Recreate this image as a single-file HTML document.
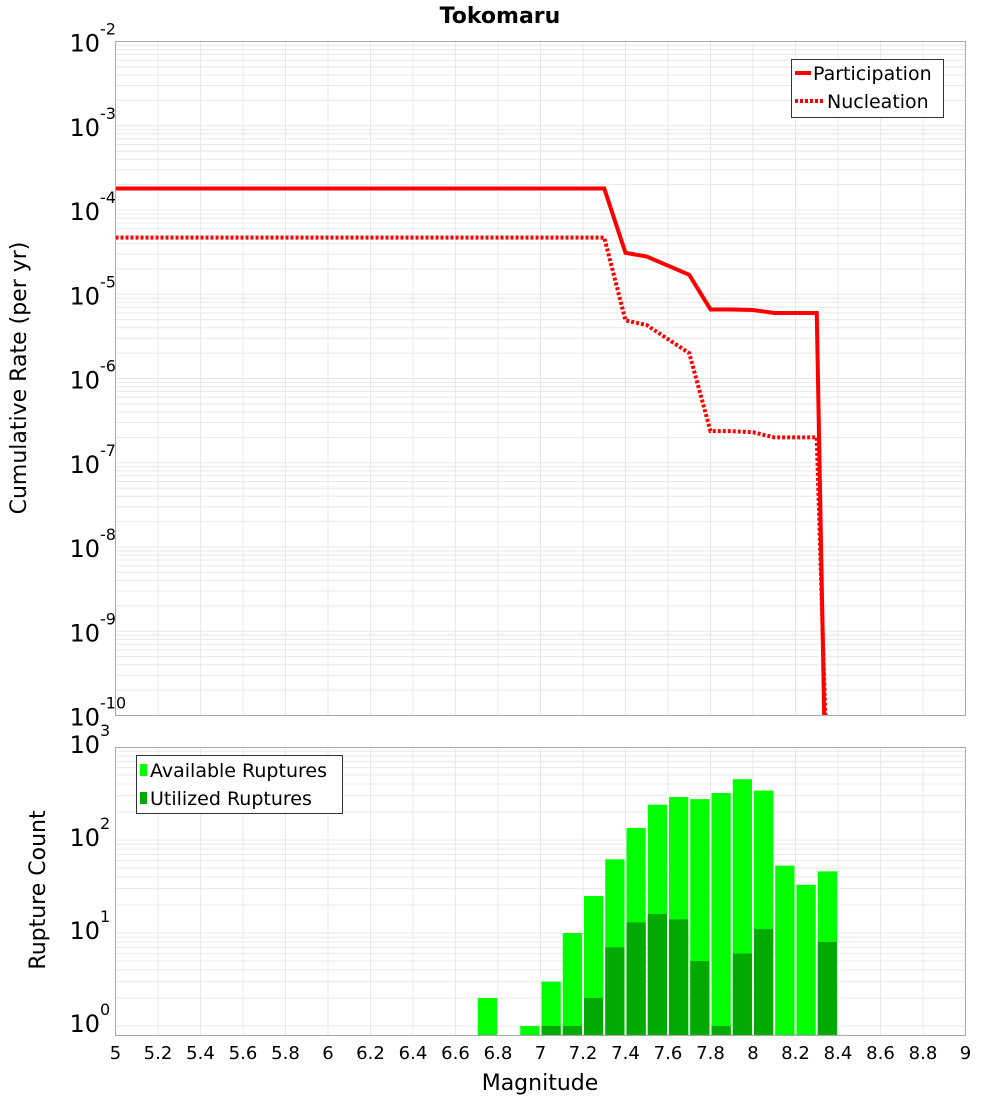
<!DOCTYPE html>
<html><head><meta charset="utf-8"><style>
body{margin:0;background:#fff;}
svg text{font-family:"DejaVu Sans","Liberation Sans",sans-serif;fill:#000;}
</style></head><body>
<svg id="chart" width="1000" height="1100" xmlns="http://www.w3.org/2000/svg">
<text x="500" y="23" text-anchor="middle" font-size="22" font-weight="bold">Tokomaru</text>
<g id="topg"></g><g id="botg"></g>
<text transform="translate(26,378) rotate(-90)" text-anchor="middle" font-size="22">Cumulative Rate (per yr)</text>
<text transform="translate(45,890) rotate(-90)" text-anchor="middle" font-size="22">Rupture Count</text>
<text x="540" y="1090" text-anchor="middle" font-size="22">Magnitude</text>
<g>
<rect x="791.5" y="59.5" width="152" height="58" fill="#fff" stroke="#333"/>
<line x1="795" y1="73" x2="811" y2="73" stroke="#f00" stroke-width="4"/>
<text x="813" y="80" font-size="19">Participation</text>
<line x1="795" y1="101" x2="823" y2="101" stroke="#f00" stroke-width="4" stroke-dasharray="3,2"/>
<text x="827" y="108" font-size="19">Nucleation</text>
</g>
<g>
<rect x="136.5" y="755.5" width="206" height="58" fill="#fff" stroke="#333"/>
<rect x="140" y="764" width="7" height="12" fill="#00ff00"/>
<text x="150" y="777" font-size="19">Available Ruptures</text>
<rect x="140" y="792" width="7" height="12" fill="#00aa00"/>
<text x="150" y="805" font-size="19">Utilized Ruptures</text>
</g>
</svg>
<script>
const xTicks=[5,5.2,5.4,5.6,5.8,6,6.2,6.4,6.6,6.8,7,7.2,7.4,7.6,7.8,8,8.2,8.4,8.6,8.8,9];
const partMag=[5,7.3,7.4,7.5,7.7,7.8,7.9,8.0,8.1,8.3,8.335];
const partRate=[1.8e-4,1.8e-4,3.1e-5,2.8e-5,1.7e-5,6.6e-6,6.6e-6,6.5e-6,6.0e-6,6.0e-6,1e-10];
const nuclMag=[5,7.3,7.4,7.5,7.7,7.8,7.9,8.0,8.1,8.3,8.34];
const nuclRate=[4.7e-5,4.7e-5,4.9e-6,4.3e-6,2.0e-6,2.37e-7,2.37e-7,2.3e-7,2.0e-7,2.0e-7,1e-10];
const binMag=[6.7,6.9,7.0,7.1,7.2,7.3,7.4,7.5,7.6,7.7,7.8,7.9,8.0,8.1,8.2,8.3];
const available=[2,1,3,10,25,62,135,240,290,275,320,450,340,53,33,46];
const utilized=[0,0,1,1,2,7,13,16,14,5,1,6,11,0,0,8];
const NS='http://www.w3.org/2000/svg';
const L=115.5,R=965.5;
const X=m=>L+(m-5)*(R-L)/4;
const T1=41.5,B1=715.5,Ytop=v=>T1+(-2-Math.log10(v))*(B1-T1)/8;
const T2=747.5,B2=1035.5,PPD=93,Ybot=v=>1026-Math.log10(v)*PPD;
function el(p,t,a){const e=document.createElementNS(NS,t);for(const k in a)e.setAttribute(k,a[k]);p.appendChild(e);return e;}
const gTop=document.getElementById('topg'),gBot=document.getElementById('botg');
for(let d=-10;d<-2;d++)for(let k=1;k<10;k++){const y=Ytop(k*Math.pow(10,d));const g=el(gTop,'line',{x1:L,x2:R,y1:y,y2:y,stroke:'#e8e8e8'});

}
for(let d=0;d<3;d++)for(let k=1;k<10;k++){const y=Ybot(k*Math.pow(10,d));if(y<T2)continue;const g=el(gBot,'line',{x1:L,x2:R,y1:y,y2:y,stroke:'#e8e8e8'});

}
xTicks.forEach(t=>{const x=X(t);
const a=el(gTop,'line',{x1:x,x2:x,y1:T1,y2:B1,stroke:'#e8e8e8'});


const b=el(gBot,'line',{x1:x,x2:x,y1:T2,y2:B2,stroke:'#e8e8e8'});


const tx=el(gBot,'text',{x:x,y:1059,'text-anchor':'middle','font-size':'18'});tx.textContent=String(t);

});
for(let d=-10;d<=-2;d++){const y=Ytop(Math.pow(10,d));const t=el(gTop,'text',{x:100,y:y+10,'text-anchor':'end','font-size':'24'});t.textContent='10';


const s=el(gTop,'text',{x:100,y:y-7,'font-size':'16'});s.textContent=String(d);

}
for(let d=0;d<=3;d++){const y=Ybot(Math.pow(10,d));const t=el(gBot,'text',{x:100,y:y+6,'text-anchor':'end','font-size':'24'});t.textContent='10';


const s=el(gBot,'text',{x:100,y:y-11,'font-size':'16'});s.textContent=String(d);

}
binMag.forEach((m,i)=>{const x0=X(m)+1,w=X(m+0.1)-X(m)-2;
const y=Math.max(Ybot(available[i]),T2);const r=el(gBot,'rect',{x:x0,y:y,width:w,height:B2-y,fill:'#00ff00'});


if(utilized[i]>0){const yu=Ybot(utilized[i]);const u=el(gBot,'rect',{x:x0,y:yu,width:w,height:B2-yu,fill:'#00aa00'});

}});
const cp=el(gTop,'clipPath',{id:'cp'});
el(cp,'rect',{x:L,y:T1,width:R-L,height:B1-T1+2});
const p1=el(gTop,'polyline',{points:partMag.map((m,i)=>X(m)+','+Ytop(partRate[i])).join(' '),fill:'none',stroke:'#f00','stroke-width':4,'clip-path':'url(#cp)'});


const p2=el(gTop,'polyline',{points:nuclMag.map((m,i)=>X(m)+','+Ytop(nuclRate[i])).join(' '),fill:'none',stroke:'#f00','stroke-width':4,'stroke-dasharray':'3,2','clip-path':'url(#cp)'});


const f1=el(gTop,'rect',{x:L,y:T1,width:R-L,height:B1-T1,fill:'none',stroke:'#aaa'});


const f2=el(gBot,'rect',{x:L,y:T2,width:R-L,height:B2-T2,fill:'none',stroke:'#aaa'});


</script>
</body></html>
